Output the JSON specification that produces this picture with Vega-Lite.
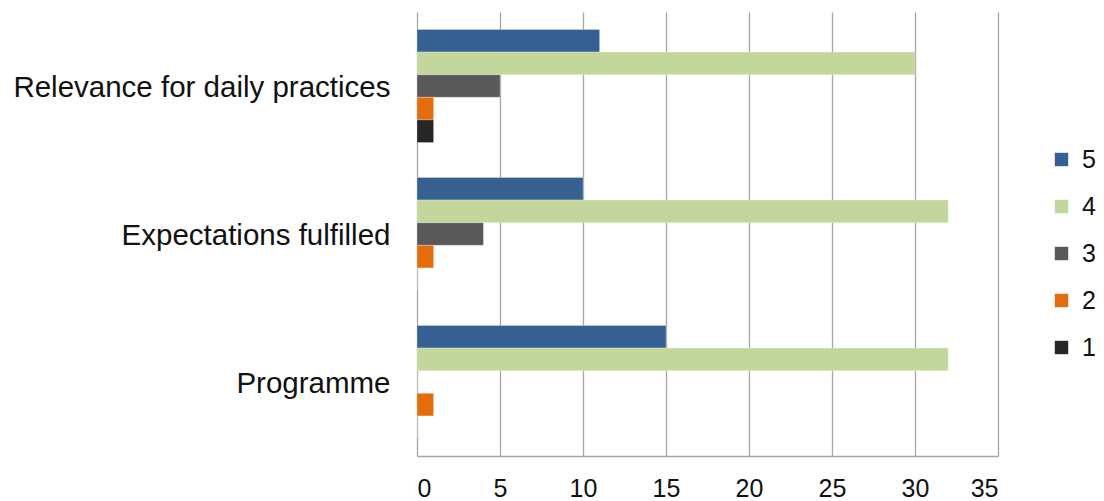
{
  "$schema": "https://vega.github.io/schema/vega-lite/v6.json",
  "width": 581,
  "height": 444,
  "autosize": "none",
  "padding": {"left": 417, "top": 12, "right": 106, "bottom": 45},
  "background": "white",
  "data": {
    "values": [
      {"item": "Relevance for daily practices", "rating": "5", "count": 11},
      {"item": "Relevance for daily practices", "rating": "4", "count": 30},
      {"item": "Relevance for daily practices", "rating": "3", "count": 5},
      {"item": "Relevance for daily practices", "rating": "2", "count": 1},
      {"item": "Relevance for daily practices", "rating": "1", "count": 1},
      {"item": "Expectations fulfilled", "rating": "5", "count": 10},
      {"item": "Expectations fulfilled", "rating": "4", "count": 32},
      {"item": "Expectations fulfilled", "rating": "3", "count": 4},
      {"item": "Expectations fulfilled", "rating": "2", "count": 1},
      {"item": "Expectations fulfilled", "rating": "1", "count": 0},
      {"item": "Programme", "rating": "5", "count": 15},
      {"item": "Programme", "rating": "4", "count": 32},
      {"item": "Programme", "rating": "3", "count": 0},
      {"item": "Programme", "rating": "2", "count": 1},
      {"item": "Programme", "rating": "1", "count": 0}
    ]
  },
  "mark": {"type": "bar", "stroke": "#ffffff", "strokeOpacity": 0.35, "strokeWidth": 0.8},
  "encoding": {
    "y": {
      "field": "item",
      "type": "nominal",
      "sort": ["Relevance for daily practices", "Expectations fulfilled", "Programme"],
      "scale": {"paddingInner": 0.236, "paddingOuter": 0.118},
      "axis": {
        "title": null,
        "domain": false,
        "ticks": false,
        "labelFont": "Liberation Sans",
        "labelFontSize": 29.5,
        "labelColor": "#111111",
        "labelPadding": 27,
        "labelOffset": 2,
        "labelLimit": 500
      }
    },
    "yOffset": {
      "field": "rating",
      "type": "nominal",
      "sort": ["5", "4", "3", "2", "1"],
      "scale": {"paddingInner": 0, "paddingOuter": 0}
    },
    "x": {
      "field": "count",
      "type": "quantitative",
      "scale": {"domain": [0, 35], "nice": false},
      "axis": {
        "title": null,
        "values": [0, 5, 10, 15, 20, 25, 30, 35],
        "grid": true,
        "gridColor": "#a6a6a6",
        "gridWidth": 1.3,
        "domainColor": "#a6a6a6",
        "domainWidth": 1.3,
        "ticks": false,
        "labelFont": "Liberation Sans",
        "labelFontSize": 25,
        "labelColor": "#111111",
        "labelPadding": 20
      }
    },
    "color": {
      "field": "rating",
      "type": "nominal",
      "sort": ["5", "4", "3", "2", "1"],
      "scale": {
        "domain": ["5", "4", "3", "2", "1"],
        "range": ["#366092", "#c3d69b", "#595959", "#e46c0a", "#262626"]
      },
      "legend": {
        "title": null,
        "orient": "none",
        "legendX": 632,
        "legendY": 135,
        "symbolType": "square",
        "symbolSize": 180,
        "symbolStrokeWidth": 0,
        "rowPadding": 21,
        "labelFont": "Liberation Sans",
        "labelFontSize": 25,
        "labelColor": "#111111",
        "labelOffset": 8
      }
    }
  },
  "config": {"view": {"stroke": null}}
}
